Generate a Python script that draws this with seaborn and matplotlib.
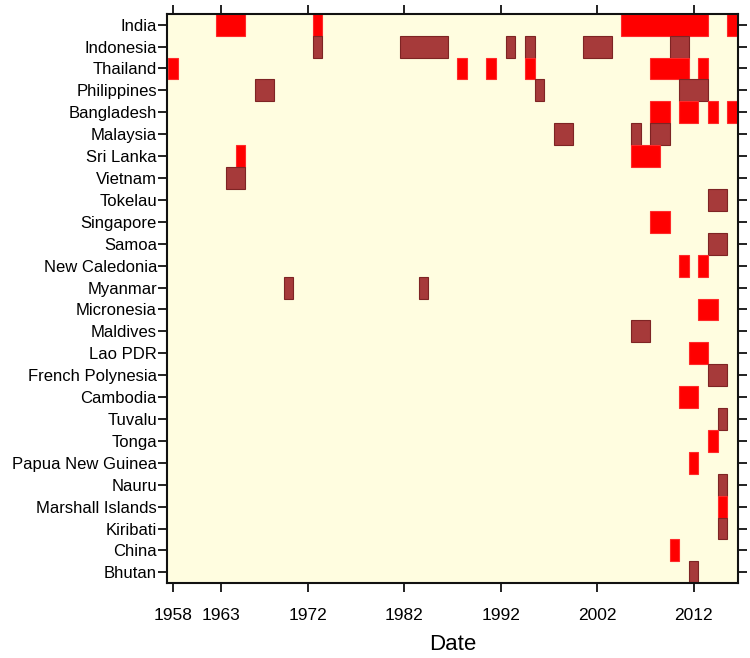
import matplotlib
matplotlib.use("Agg")
import matplotlib.pyplot as plt
from matplotlib import font_manager
import seaborn as sns
import pandas as pd

# ---- data ----
countries = ["India", "Indonesia", "Thailand", "Philippines", "Bangladesh",
             "Malaysia", "Sri Lanka", "Vietnam", "Tokelau", "Singapore",
             "Samoa", "New Caledonia", "Myanmar", "Micronesia", "Maldives",
             "Lao PDR", "French Polynesia", "Cambodia", "Tuvalu", "Tonga",
             "Papua New Guinea", "Nauru", "Marshall Islands", "Kiribati",
             "China", "Bhutan"]

# event spans (inclusive years) and event kind (1 = red, 2 = dark red)
span_country = ["India", "India", "India", "India",
                "Indonesia", "Indonesia", "Indonesia", "Indonesia", "Indonesia", "Indonesia",
                "Thailand", "Thailand", "Thailand", "Thailand", "Thailand", "Thailand",
                "Philippines", "Philippines", "Philippines",
                "Bangladesh", "Bangladesh", "Bangladesh", "Bangladesh",
                "Malaysia", "Malaysia", "Malaysia",
                "Sri Lanka", "Sri Lanka",
                "Vietnam", "Tokelau", "Singapore", "Samoa",
                "New Caledonia", "New Caledonia",
                "Myanmar", "Myanmar",
                "Micronesia", "Maldives", "Lao PDR", "French Polynesia", "Cambodia",
                "Tuvalu", "Tonga", "Papua New Guinea", "Nauru", "Marshall Islands",
                "Kiribati", "China", "Bhutan"]
span_start = [1963, 1973, 2005, 2016,
              1973, 1982, 1993, 1995, 2001, 2010,
              1958, 1988, 1991, 1995, 2008, 2013,
              1967, 1996, 2011,
              2008, 2011, 2014, 2016,
              1998, 2006, 2008,
              1965, 2006,
              1964, 2014, 2008, 2014,
              2011, 2013,
              1970, 1984,
              2013, 2006, 2012, 2014, 2011,
              2015, 2014, 2012, 2015, 2015,
              2015, 2010, 2012]
span_end = [1965, 1973, 2013, 2016,
            1973, 1986, 1993, 1995, 2003, 2011,
            1958, 1988, 1991, 1995, 2011, 2013,
            1968, 1996, 2013,
            2009, 2012, 2014, 2016,
            1999, 2006, 2009,
            1965, 2008,
            1965, 2015, 2009, 2015,
            2011, 2013,
            1970, 1984,
            2014, 2007, 2013, 2015, 2012,
            2015, 2014, 2012, 2015, 2015,
            2015, 2010, 2012]
span_kind = [1, 1, 1, 1,
             2, 2, 2, 2, 2, 2,
             1, 1, 1, 1, 1, 1,
             2, 2, 2,
             1, 1, 1, 1,
             2, 2, 2,
             1, 1,
             2, 2, 1, 2,
             1, 1,
             2, 2,
             1, 2, 1, 2, 1,
             2, 1, 1, 2, 1,
             2, 1, 2]

x_ticks = [1958, 1963, 1972, 1982, 1992, 2002, 2012]

# ---- styling ----
sns.set_theme(style="ticks")
avail = {f.name for f in font_manager.fontManager.ttflist}
base_font = "Liberation Sans" if "Liberation Sans" in avail else "DejaVu Sans"
narrow_font = "Liberation Sans Narrow" if "Liberation Sans Narrow" in avail else base_font
plt.rcParams["font.family"] = [base_font, "DejaVu Sans"]

kind_fill = {1: "#FF0000", 2: "#A63A3A"}
kind_edge = {1: "#FF2A2A", 2: "#7E2424"}
bg = "#FFFDE0"

df = pd.DataFrame({"country": span_country, "start": span_start,
                   "end": span_end, "kind": span_kind})
row_of = {c: i for i, c in enumerate(countries)}
df["row"] = df["country"].map(row_of)

fig = plt.figure(figsize=(7.5, 6.58), dpi=100)
ax = fig.add_axes([0.2231, 0.1135, 0.9836 - 0.2231, 0.9792 - 0.1135])
ax.set_facecolor(bg)

for _, r in df.iterrows():
    ax.barh(r["row"], r["end"] - r["start"] + 1, left=r["start"] - 0.5,
            height=1.0, color=kind_fill[r["kind"]],
            edgecolor=kind_edge[r["kind"]], linewidth=0.8, zorder=2)

ax.set_xlim(1957.42, 2016.57)
ax.set_ylim(len(countries) - 0.5, -0.5)
ax.set_yticks(range(len(countries)))
ax.set_yticklabels(countries, fontsize=12, color="black")
ax.set_xticks(x_ticks)
ax.set_xticklabels([str(t) for t in x_ticks], fontsize=12.5,
                   family=[narrow_font, "DejaVu Sans"], color="black")
ax.tick_params(axis="both", which="both", direction="out", length=6.5,
               width=1.3, color="#111111", top=True, right=True,
               labeltop=False, labelright=False)
ax.tick_params(axis="y", pad=1)
ax.tick_params(axis="x", pad=11)
for s in ax.spines.values():
    s.set_visible(True)
    s.set_linewidth(1.5)
    s.set_color("#111111")
ax.grid(False)
ax.set_xlabel("Date", fontsize=16, family=[narrow_font, "DejaVu Sans"],
              labelpad=8, color="black")
ax.set_ylabel("")

fig.savefig("out.png", dpi=100, facecolor="white")
